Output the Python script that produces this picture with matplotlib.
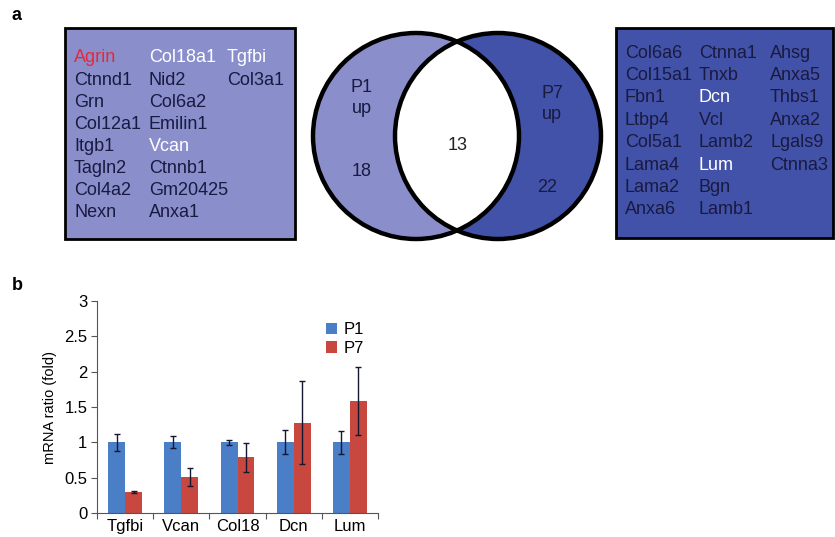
'''
Venn summary of P1/P7 up-regulated matrix genes (a) and qPCR check (b).
'''
import matplotlib.pyplot as plt
import matplotlib.patches as mpatches
import numpy as np

plt.rcParams['font.family'] = ['Liberation Sans', 'DejaVu Sans']

# panel a: gene lists, one list per column
p1_cols = [
    ["Agrin", "Ctnnd1", "Grn", "Col12a1", "Itgb1", "Tagln2", "Col4a2", "Nexn"],
    ["Col18a1", "Nid2", "Col6a2", "Emilin1", "Vcan", "Ctnnb1", "Gm20425", "Anxa1"],
    ["Tgfbi", "Col3a1"],
]
p7_cols = [
    ["Col6a6", "Col15a1", "Fbn1", "Ltbp4", "Col5a1", "Lama4", "Lama2", "Anxa6"],
    ["Ctnna1", "Tnxb", "Dcn", "Vcl", "Lamb2", "Lum", "Bgn", "Lamb1"],
    ["Ahsg", "Anxa5", "Thbs1", "Anxa2", "Lgals9", "Ctnna3"],
]
white_genes = ["Col18a1", "Tgfbi", "Vcan", "Dcn", "Lum"]
red_genes = ["Agrin"]
n_p1_only = 18
n_shared = 13
n_p7_only = 22

# panel b: qPCR fold ratios
genes = ["Tgfbi", "Vcan", "Col18", "Dcn", "Lum"]
p1_vals = [1.0, 1.0, 1.0, 1.0, 1.0]
p1_err = [0.12, 0.085, 0.035, 0.17, 0.165]
p7_vals = [0.30, 0.51, 0.79, 1.28, 1.58]
p7_err = [0.01, 0.125, 0.205, 0.59, 0.48]

light = '#8a8ecb'
dark = '#4252a8'
navy = '#181a40'
blue = '#4a7ec7'
red = '#c84840'

fig = plt.figure(figsize=(8.35, 5.37), dpi=100)

# panel a drawn in pixel-like coordinates
ax = fig.add_axes([0, 0, 1, 1])
ax.set_xlim(0, 835)
ax.set_ylim(537, 0)
ax.axis('off')


def gene_box(x0, y0, x1, y1, cols, col_x, row0, dy):
    ax.add_patch(mpatches.Rectangle((x0, y0), x1 - x0, y1 - y0, facecolor=light if x0 < 300 else dark,
                                    edgecolor='black', lw=2))
    for cx, col in zip(col_x, cols):
        for i, g in enumerate(col):
            c = navy
            if g in white_genes:
                c = 'white'
            elif g in red_genes:
                c = '#e8283a'
            ax.text(cx, row0 + i * dy, g, color=c, fontsize=13, ha='left', va='center')


gene_box(65, 28, 295, 239, p1_cols, [74, 149, 227], 58, 22.1)
gene_box(616, 28, 833, 238, p7_cols, [625, 699, 770], 53, 22.4)

# venn circles
r = 103
c_left = (416, 136)
c_right = (498, 136)
left = mpatches.Circle(c_left, r, facecolor=light, edgecolor='none')
right = mpatches.Circle(c_right, r, facecolor=dark, edgecolor='none')
ax.add_patch(left)
ax.add_patch(right)
overlap = mpatches.Circle(c_left, r, facecolor='white', edgecolor='none')
ax.add_patch(overlap)
overlap.set_clip_path(right)
for c in (c_left, c_right):
    ax.add_patch(mpatches.Circle(c, r, facecolor='none', edgecolor='black', lw=3.2))

ax.text(362, 98, "P1\nup", color=navy, fontsize=13, ha='center', va='center', linespacing=1.3)
ax.text(362, 172, str(n_p1_only), color=navy, fontsize=13, ha='center', va='center')
ax.text(458, 145, str(n_shared), color='#222222', fontsize=13, ha='center', va='center')
ax.text(552, 104, "P7\nup", color=navy, fontsize=13, ha='center', va='center', linespacing=1.3)
ax.text(547, 188, str(n_p7_only), color=navy, fontsize=13, ha='center', va='center')

ax.text(17, 15, "a", fontsize=13, fontweight='bold', ha='center', va='center')
ax.text(17, 285, "b", fontsize=13, fontweight='bold', ha='center', va='center')

# panel b bar chart
bx = fig.add_axes([97 / 835, 24 / 537, 281 / 835, 212 / 537])
x = np.arange(len(genes))
w = 0.3
ekw = dict(ecolor='#15172e', elinewidth=1, capsize=2.5, capthick=1)
bx.bar(x - w / 2, p1_vals, w, yerr=p1_err, color=blue, label='P1', error_kw=ekw)
bx.bar(x + w / 2, p7_vals, w, yerr=p7_err, color=red, label='P7', error_kw=ekw)
bx.set_xlim(-0.5, len(genes) - 0.5)
bx.set_ylim(0, 3)
bx.set_yticks([0, 0.5, 1, 1.5, 2, 2.5, 3])
bx.set_yticklabels(['0', '0.5', '1', '1.5', '2', '2.5', '3'])
bx.set_xticks(np.arange(-0.5, len(genes), 1.0))
bx.set_xticklabels([])
bx.set_xticks(x, minor=True)
bx.set_xticklabels(genes, minor=True)
bx.tick_params(axis='x', which='minor', length=0, labelsize=12, pad=4)
bx.tick_params(axis='x', which='major', length=4, width=0.8, color='#555555')
bx.tick_params(axis='y', length=4, width=0.8, color='#555555', labelsize=12, pad=3)
for s in ('top', 'right'):
    bx.spines[s].set_visible(False)
for s in ('left', 'bottom'):
    bx.spines[s].set_color('#555555')
    bx.spines[s].set_linewidth(0.8)
bx.set_ylabel('mRNA ratio (fold)', fontsize=10.5, labelpad=5)
bx.legend(loc='upper left', bbox_to_anchor=(0.76, 0.97), frameon=False, fontsize=12,
          handlelength=0.7, handleheight=0.7, handletextpad=0.4, labelspacing=0.2)

fig.savefig('out.png', dpi=100)
